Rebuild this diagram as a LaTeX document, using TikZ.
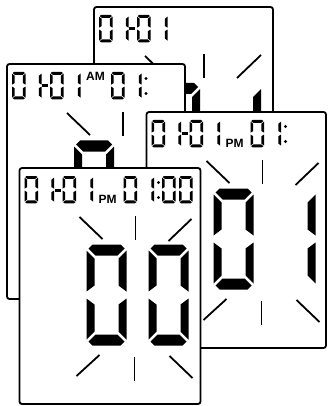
\documentclass[tikz,border=0pt]{standalone}
\usepackage{fontspec}
\setmainfont{Liberation Sans}
\begin{document}
\tikzset{
  panel/.style={draw=black, fill=white, line width=1.8pt, rounded corners=2.5pt},
  ray/.style={draw=black, line width=1.8pt},
  seg/.style={fill=black},
  ampm/.style={font=\bfseries\fontsize{12}{12}\selectfont, inner sep=0pt, anchor=base west},
}
% seven-segment pieces in a 40 x 101 box (y downwards)
\newcommand{\sgA}{\fill[seg] (2,4) -- (6,0) -- (34,0) -- (38,4) -- (31,11) -- (9,11) -- cycle;}
\newcommand{\sgB}{\fill[seg] (40,6) -- (32,14) -- (32,41) -- (40,47) -- cycle;}
\newcommand{\sgC}{\fill[seg] (40,54) -- (32,60) -- (32,87) -- (40,95) -- cycle;}
\newcommand{\sgD}{\fill[seg] (2,97) -- (9,90) -- (31,90) -- (38,97) -- (34,101) -- (6,101) -- cycle;}
\newcommand{\sgE}{\fill[seg] (0,54) -- (8,60) -- (8,87) -- (0,95) -- cycle;}
\newcommand{\sgF}{\fill[seg] (0,6) -- (8,14) -- (8,41) -- (0,47) -- cycle;}
\newcommand{\digbig}[3]{\begin{scope}[shift={(#1,#2)}]\foreach \s in {#3}{\csname sg\s\endcsname}\end{scope}}
\newcommand{\digsmall}[3]{\begin{scope}[shift={(#1,#2)},xscale=0.34,yscale=0.27]\foreach \s in {#3}{\csname sg\s\endcsname}\end{scope}}
\newcommand{\hdrdate}{%
  \digsmall{5}{8}{A,B,C,D,E,F}\digsmall{21}{8}{B,C}%
  \fill (35,20.5) rectangle (41,23.5);%
  \digsmall{43}{8}{A,B,C,D,E,F}\digsmall{60}{8}{B,C}}
\newcommand{\hdrhour}{%
  \digsmall{104}{8}{A,B,C,D,E,F}\digsmall{121}{8}{B,C}%
  \fill (139,14.5) circle (1.7) (139,29.5) circle (1.7);}
\newcommand{\hdrmin}{\digsmall{142.5}{8}{A,B,C,D,E,F}\digsmall{159.5}{8}{A,B,C,D,E,F}}
\newcommand{\raysstd}{%
  \draw[ray] (60,49) -- (83,71);
  \draw[ray] (116,48) -- (116,72);
  \draw[ray] (149,73) -- (172,51);
  \draw[ray] (57,208) -- (80,187);
  \draw[ray] (115,189) -- (115,213);
  \draw[ray] (150,188) -- (173,210);}
\begin{tikzpicture}[x=1pt,y=-1pt]
\useasboundingbox (0,0) rectangle (327,406);
\fill[white] (0,0) rectangle (327,406);
% panel A (back)
\begin{scope}[shift={(94,7)}]
  \draw[panel] (0,0) rectangle (179,236);
  \hdrdate
  \draw[ray] (51,49) -- (74,71);
  \draw[ray] (110,47) -- (110,71);
  \draw[ray] (143,71) -- (167,48);
  \digbig{66}{76}{A,B,C,D,E,F}
  \digbig{127}{76}{B,C}
\end{scope}
% panel B (AM)
\begin{scope}[shift={(7,64)}]
  \draw[panel] (0,0) rectangle (178,235);
  \hdrdate
  \node[ampm] (amB) at (79,17) {AM};
  \hdrhour
  \raysstd
  \digbig{67}{76.5}{A,B,C,D,E,F}
\end{scope}
% panel C (PM, hour)
\begin{scope}[shift={(146.5,112)}]
  \draw[panel] (0,0) rectangle (179.5,236);
  \hdrdate
  \node[ampm] (pmC) at (79,35) {PM};
  \hdrhour
  \raysstd
  \digbig{67}{76.5}{A,B,C,D,E,F}
  \digbig{129}{76.5}{B,C}
\end{scope}
% panel D (front, minutes)
\begin{scope}[shift={(19.5,168)}]
  \draw[panel] (0,0) rectangle (181,236);
  \hdrdate
  \node[ampm] (pmD) at (79,35) {PM};
  \hdrhour
  \hdrmin
  \raysstd
  \digbig{67}{76.5}{A,B,C,D,E,F}
  \digbig{129}{76.5}{A,B,C,D,E,F}
\end{scope}
\end{tikzpicture}
\end{document}
